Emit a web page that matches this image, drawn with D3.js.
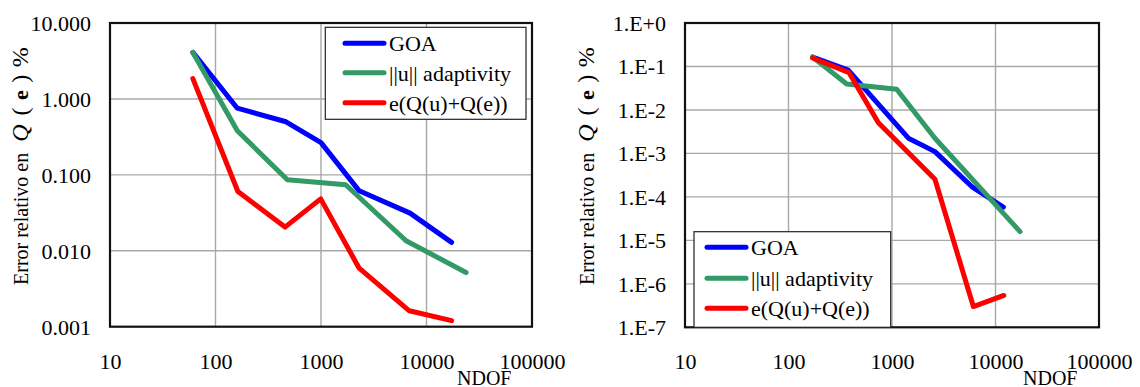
<!DOCTYPE html>
<html>
<head>
<meta charset="utf-8">
<script src="https://cdn.jsdelivr.net/npm/d3@7/dist/d3.min.js"></script>
<style>
  html, body { margin: 0; padding: 0; background: #fff; }
  svg { display: block; }
  svg text { font-family: "Liberation Serif", "Tinos", "Times New Roman", "DejaVu Serif", serif !important; }
</style>
</head>
<body>
<svg id="chart" width="1140" height="387"></svg>
<script>
// ---------- DATA ----------
const seriesNames = ["GOA", "||u|| adaptivity", "e(Q(u)+Q(e))"];
const seriesColors = ["#0000FF", "#339966", "#FF0000"];

const xTicks = [10, 100, 1000, 10000, 100000];
const leftYTicks = [0.001, 0.01, 0.1, 1, 10];
const rightYTicks = [1e-7, 1e-6, 1e-5, 1e-4, 1e-3, 1e-2, 1e-1, 1];

// Left chart
const leftGOA_x = [61, 161, 466, 1000, 2300, 6980, 17300];
const leftGOA_y = [4.1, 0.755, 0.50, 0.266, 0.0616, 0.0313, 0.0129];
const leftU_x   = [61, 161, 480, 1715, 6400, 23700];
const leftU_y   = [4.1, 0.38, 0.086, 0.074, 0.01355, 0.00518];
const leftE_x   = [61, 163, 456, 993, 2300, 6870, 17300];
const leftE_y   = [1.85, 0.0603, 0.0205, 0.0483, 0.0059, 0.00162, 0.0012];

// Right chart
const rightGOA_x = [171, 378, 1440, 2600, 5890, 11900];
const rightGOA_y = [0.165, 0.082, 0.00224, 0.0011, 1.73e-4, 5.8e-5];
const rightU_x   = [171, 365, 1110, 2600, 17260];
const rightU_y   = [0.165, 0.0396, 0.0299, 2.23e-3, 1.59e-5];
const rightE_x   = [171, 385, 738, 2600, 6110, 12020];
const rightE_y   = [0.157, 0.072, 0.0051, 2.55e-4, 3.0e-7, 5.4e-7];

const zip = (xs, ys) => xs.map((x, i) => ({x, y: ys[i]}));

const svg = d3.select("#chart");

function drawPanel(cfg) {
  const {x0, x1, y0, y1, yDomain, yTicks, yFmt, series, legend, labelX} = cfg;
  const x = d3.scaleLog().domain([10, 100000]).range([x0, x1]);
  const y = d3.scaleLog().domain(yDomain).range([y1, y0]);
  const g = svg.append("g");

  // grid
  g.append("g").selectAll("line").data(xTicks.slice(1, -1)).join("line")
    .attr("x1", d => x(d)).attr("x2", d => x(d))
    .attr("y1", y0).attr("y2", y1)
    .attr("stroke", "#a8a8a8").attr("stroke-width", 1.4);
  g.append("g").selectAll("line").data(yTicks.slice(1, -1)).join("line")
    .attr("x1", x0).attr("x2", x1)
    .attr("y1", d => y(d)).attr("y2", d => y(d))
    .attr("stroke", "#a8a8a8").attr("stroke-width", 1.4);

  // y tick labels
  const ay = d3.axisLeft(y).tickValues(yTicks).tickFormat(yFmt).tickSize(0).tickPadding(0);
  const gy = g.append("g").attr("transform", `translate(${x0 - 19},0)`).call(ay);
  gy.select(".domain").remove();
  gy.attr("font-family", null);
  gy.selectAll("text").attr("font-size", 22).attr("fill", "#000").attr("dy", "0.34em");

  // x tick labels
  const ax = d3.axisBottom(x).tickValues(xTicks).tickFormat(d3.format("d")).tickSize(0).tickPadding(0);
  const gx = g.append("g").attr("transform", `translate(0,${y1})`).call(ax);
  gx.select(".domain").remove();
  gx.attr("font-family", null);
  gx.selectAll("text").attr("font-size", 22).attr("fill", "#000").attr("dy", null).attr("y", 369 - y1);

  // lines
  const line = d3.line().x(d => x(d.x)).y(d => y(d.y));
  series.forEach((s, i) => {
    g.append("path").datum(s).attr("d", line)
      .attr("fill", "none").attr("stroke", seriesColors[i])
      .attr("stroke-width", 5).attr("stroke-linejoin", "round").attr("stroke-linecap", "round");
  });

  // frame
  g.append("rect").attr("x", x0).attr("y", y0).attr("width", x1 - x0).attr("height", y1 - y0)
    .attr("fill", "none").attr("stroke", "#111").attr("stroke-width", 2.2);

  // legend
  const lg = g.append("g");
  lg.append("rect").attr("x", legend.x).attr("y", legend.y).attr("width", legend.w).attr("height", legend.h)
    .attr("fill", "#fff").attr("stroke", "#222").attr("stroke-width", 1.2);
  seriesNames.forEach((n, i) => {
    const ly = legend.rows[i];
    lg.append("line").attr("x1", legend.lx).attr("x2", legend.lx + 39)
      .attr("y1", ly).attr("y2", ly).attr("stroke", seriesColors[i])
      .attr("stroke-width", 5).attr("stroke-linecap", "round");
    lg.append("text").attr("x", legend.lx + 44).attr("y", ly + 8)
      .attr("font-size", 22).attr("fill", "#000").text(n);
  });

  // x label
  g.append("text").attr("x", labelX).attr("y", 385).attr("font-size", 20).attr("fill", "#000").text("NDOF");

  // y label
  const yl = g.append("text")
    .attr("transform", `translate(${cfg.ylabX},285) rotate(-90)`)
    .attr("font-size", 20).attr("fill", "#000");
  yl.append("tspan").text("Error relativo en");
  yl.append("tspan").attr("dx", 11).attr("font-style", "italic").attr("font-size", 24).text("Q");
  yl.append("tspan").attr("dx", 9).attr("font-size", 24).text("(");
  yl.append("tspan").attr("dx", 7.5).attr("font-weight", "bold").attr("font-size", 22).text("e");
  yl.append("tspan").attr("dx", 7.5).attr("font-size", 24).text(")");
  yl.append("tspan").attr("dx", 7.4).attr("font-size", 24).text("%");
}

drawPanel({
  x0: 110, x1: 532, y0: 23, y1: 326.7,
  yDomain: [0.001, 10], yTicks: leftYTicks, yFmt: d3.format(".3f"),
  series: [zip(leftGOA_x, leftGOA_y), zip(leftU_x, leftU_y), zip(leftE_x, leftE_y)],
  legend: {x: 325.3, y: 27.3, w: 200.7, h: 92, lx: 345, rows: [43.3, 72.7, 102.7]},
  labelX: 457, ylabX: 28
});

drawPanel({
  x0: 685, x1: 1099, y0: 23, y1: 327.3,
  yDomain: [1e-7, 1], yTicks: rightYTicks,
  yFmt: d => { const e = Math.round(Math.log10(d)); return "1.E" + (e >= 0 ? "+" + e : e); },
  series: [zip(rightGOA_x, rightGOA_y), zip(rightU_x, rightU_y), zip(rightE_x, rightE_y)],
  legend: {x: 694, y: 231.7, w: 196.7, h: 95.6, lx: 707, rows: [247.3, 278.3, 308.3]},
  labelX: 1023, ylabX: 594
});
</script>
</body>
</html>
